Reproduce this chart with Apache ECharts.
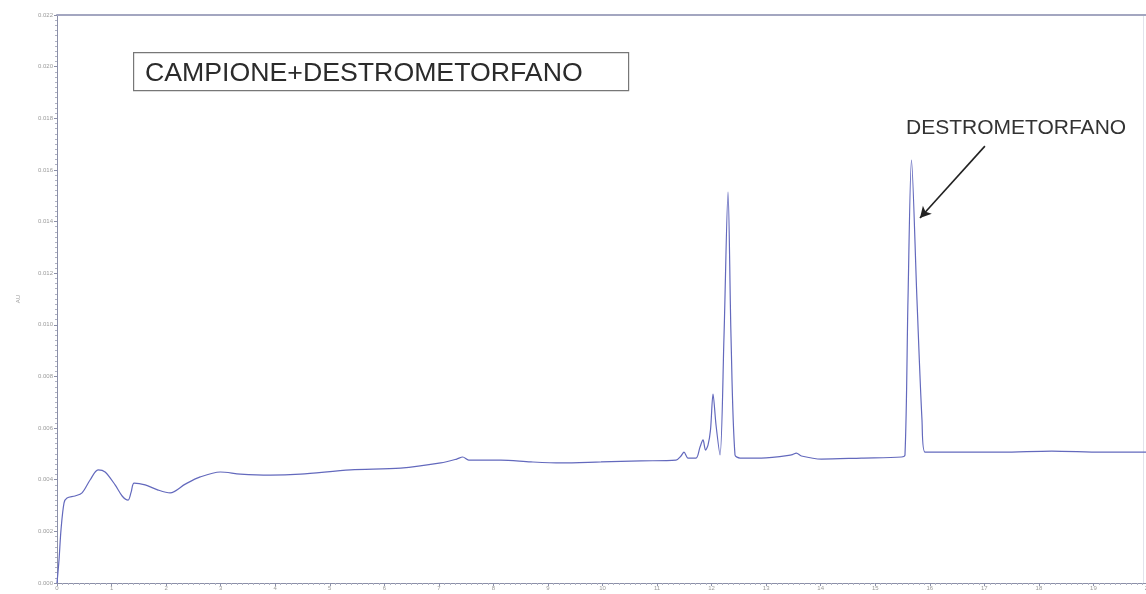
<!DOCTYPE html>
<html>
<head>
<meta charset="utf-8">
<script src="https://cdn.jsdelivr.net/npm/echarts@6/dist/echarts.min.js"></script>
<style>
  html, body { margin: 0; padding: 0; background: #ffffff; }
  #chart { width: 1146px; height: 594px; }
</style>
</head>
<body>
<div id="chart"></div>
<script>
// Retention time (min) of each sampled point of the trace
const timeMin = [
  0.000, 0.037, 0.073, 0.129, 0.184, 0.331, 0.459, 0.606, 0.753, 0.882,
  1.065, 1.194, 1.304, 1.359, 1.414, 1.616, 1.855, 2.075, 2.351, 2.626,
  2.994, 3.361, 3.912, 4.463, 5.381, 6.299, 7.034, 7.328, 7.438, 7.548,
  8.136, 8.687, 9.238, 9.972, 10.707, 11.347, 11.439, 11.494, 11.568, 11.714,
  11.788, 11.843, 11.888, 11.934, 11.980, 12.026, 12.081, 12.154, 12.227, 12.301,
  12.356, 12.429, 12.521, 12.911, 13.462, 13.554, 13.646, 14.013, 14.747,
  15.482, 15.545, 15.600, 15.664, 15.765, 15.857, 15.912, 16.584,
  17.319, 18.237, 19.155, 20.000
];
// Detector response (AU) at each time above
const absorbance = [
  0.00000, 0.00089, 0.00205, 0.00310, 0.00329, 0.00337, 0.00349, 0.00399, 0.00438, 0.00430,
  0.00380, 0.00337, 0.00321, 0.00352, 0.00387, 0.00380, 0.00360, 0.00349, 0.00383, 0.00411,
  0.00430, 0.00422, 0.00418, 0.00422, 0.00438, 0.00445, 0.00465, 0.00480, 0.00488, 0.00476,
  0.00476, 0.00469, 0.00465, 0.00469, 0.00473, 0.00476, 0.00492, 0.00507, 0.00484, 0.00484,
  0.00527, 0.00554, 0.00515, 0.00534, 0.00593, 0.00732, 0.00612, 0.00496, 0.00953, 0.01514,
  0.00953, 0.00496, 0.00484, 0.00484, 0.00496, 0.00503, 0.00492, 0.00480, 0.00484,
  0.00488, 0.00496, 0.01096, 0.01638, 0.01096, 0.00631, 0.00507, 0.00507,
  0.00507, 0.00511, 0.00507, 0.00507
];
// Axis tick values
const xTicks = [0, 1, 2, 3, 4, 5, 6, 7, 8, 9, 10, 11, 12, 13, 14, 15, 16, 17, 18, 19, 20];
const yTickLabels = ['0.000', '0.002', '0.004', '0.006', '0.008', '0.010', '0.012',
                     '0.014', '0.016', '0.018', '0.020', '0.022'];
// Texts and arrow of the annotations
const sampleTitle = 'CAMPIONE+DESTROMETORFANO';
const peakName = 'DESTROMETORFANO';
const arrowFrom = [17.01, 0.01692];
const arrowTo = [15.82, 0.01414];

const trace = timeMin.map((t, i) => [t, absorbance[i]]);
const yStep = Number(yTickLabels[1]);
const yMax = Number(yTickLabels[yTickLabels.length - 1]);

const chart = echarts.init(document.getElementById('chart'), null, { renderer: 'canvas' });
const axisGrey = '#8b8fa8';

chart.setOption({
  animation: false,
  backgroundColor: '#ffffff',
  grid: {
    left: 57, right: -2, top: 15, bottom: 11,
    containLabel: false, outerBoundsMode: 'none'
  },
  xAxis: [{
    type: 'value',
    position: 'bottom',
    min: xTicks[0],
    max: xTicks[xTicks.length - 1],
    interval: xTicks[1] - xTicks[0],
    axisLine: { show: true, onZero: false, lineStyle: { color: axisGrey, width: 1 } },
    axisTick: { show: true, length: 3, lineStyle: { color: axisGrey } },
    minorTick: { show: true, splitNumber: 10, length: 2, lineStyle: { color: '#b0b3c4' } },
    axisLabel: { fontSize: 6, color: '#9a9a9a', margin: 2, fontFamily: 'Liberation Sans' },
    splitLine: { show: false }
  }, {
    type: 'value',
    position: 'top',
    min: xTicks[0],
    max: xTicks[xTicks.length - 1],
    axisLine: { show: true, onZero: false, lineStyle: { color: '#a3a6c0', width: 2 } },
    axisTick: { show: false },
    axisLabel: { show: false },
    splitLine: { show: false }
  }],
  yAxis: [{
    type: 'value',
    position: 'left',
    min: 0,
    max: yMax,
    interval: yStep,
    name: 'AU',
    nameLocation: 'middle',
    nameGap: 36,
    nameTextStyle: { fontSize: 6, color: '#9a9a9a', fontFamily: 'Liberation Sans' },
    axisLine: { show: true, onZero: false, lineStyle: { color: axisGrey, width: 1 } },
    axisTick: { show: true, length: 3, lineStyle: { color: axisGrey } },
    minorTick: { show: true, splitNumber: 10, length: 2, lineStyle: { color: '#b0b3c4' } },
    axisLabel: {
      fontSize: 6, color: '#9a9a9a', margin: 4, fontFamily: 'Liberation Sans',
      formatter: (v) => yTickLabels[Math.round(v / yStep)] || ''
    },
    splitLine: { show: false }
  }, {
    type: 'value',
    position: 'right',
    offset: -5,
    min: 0,
    max: yMax,
    axisLine: { show: true, onZero: false, lineStyle: { color: '#e2e3ec', width: 1 } },
    axisTick: { show: false },
    axisLabel: { show: false },
    splitLine: { show: false }
  }],
  series: [{
    type: 'line',
    data: trace,
    showSymbol: false,
    smooth: 0.3,
    lineStyle: { color: '#6369bd', width: 1.2 },
    markLine: {
      silent: true,
      symbol: ['none', 'arrow'],
      symbolSize: [9, 11],
      label: { show: false },
      lineStyle: { color: '#222222', width: 1.6, type: 'solid' },
      data: [[{ coord: arrowFrom }, { coord: arrowTo }]]
    }
  }],
  graphic: [{
    type: 'rect',
    left: 133, top: 52,
    shape: { width: 495, height: 38 },
    style: { fill: '#ffffff', stroke: '#777777', lineWidth: 1.2 }
  }, {
    type: 'text',
    x: 145, y: 74,
    style: {
      text: sampleTitle,
      fill: '#2b2b2b',
      verticalAlign: 'middle',
      font: '26.7px "Liberation Sans", Arial, sans-serif'
    }
  }, {
    type: 'text',
    x: 906, y: 128,
    style: {
      text: peakName,
      fill: '#333333',
      verticalAlign: 'middle',
      font: '21px "Liberation Sans", Arial, sans-serif'
    }
  }]
});
</script>
</body>
</html>
